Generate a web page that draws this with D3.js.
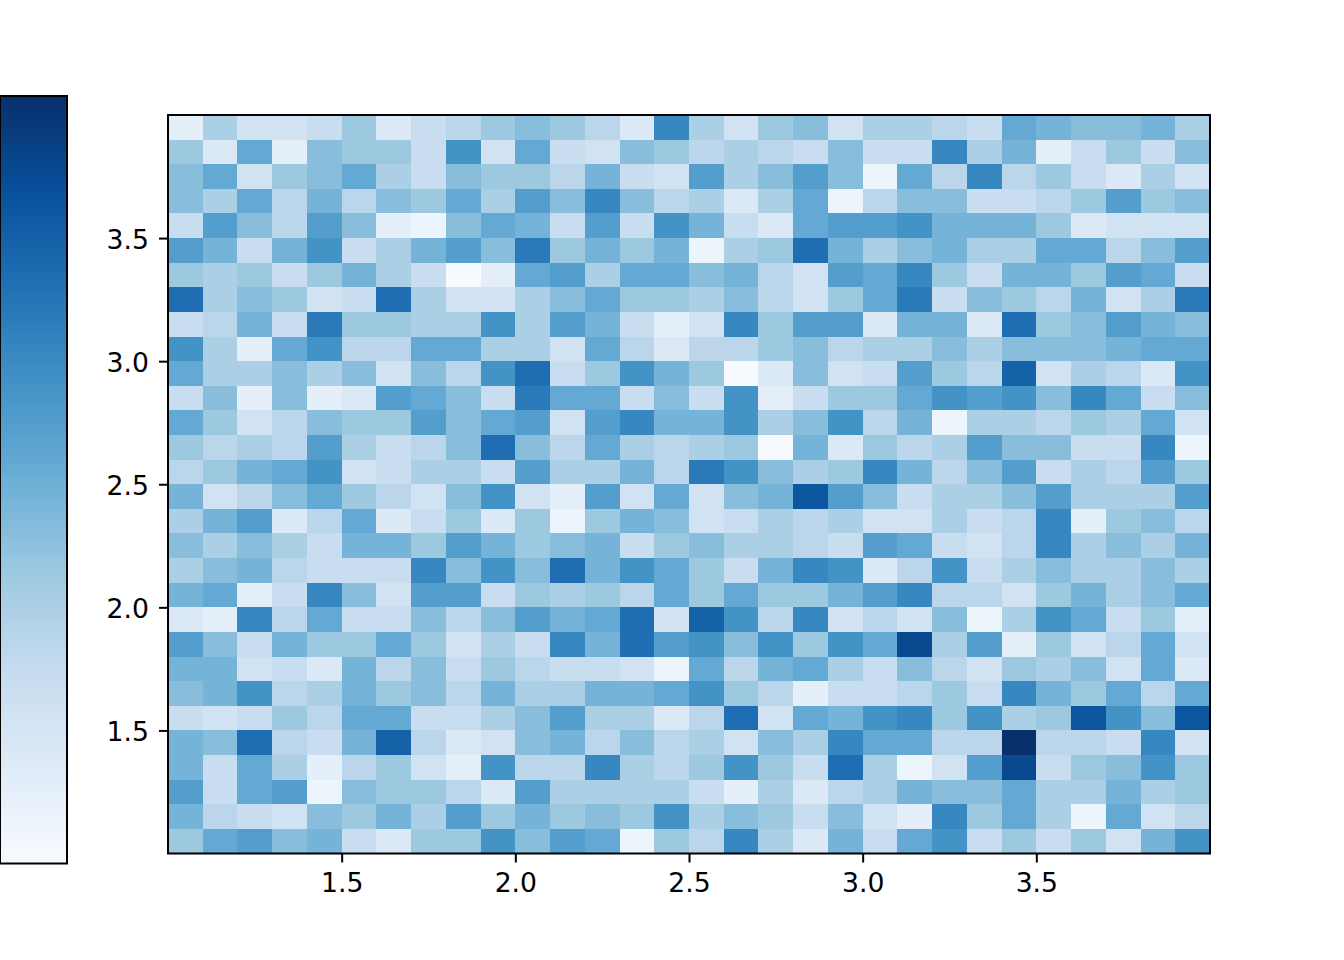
<!DOCTYPE html>
<html>
<head>
<meta charset="utf-8">
<script src="https://cdn.jsdelivr.net/npm/d3@7"></script>
<style>
	html, body { margin: 0; padding: 0; background: #fff; }
	svg { display: block; }
	text { font-family: "DejaVu Sans", sans-serif; font-size: 26.67px; fill: #000; }
</style>
</head>
<body>
<div id="vis"></div>
<script>
// bin counts, top row of the picture first
var counts = [
	[2,7,4,4,5,8,3,5,6,8,9,8,6,3,14,7,4,8,9,4,7,7,6,5,11,10,9,9,10,7],
	[8,3,11,2,9,8,8,5,13,4,11,5,4,9,8,6,7,6,5,9,5,5,14,7,10,2,5,8,5,9],
	[9,11,4,8,9,11,7,5,9,8,8,6,10,5,4,12,7,9,12,9,1,11,6,14,6,8,5,3,7,4],
	[9,7,11,6,10,6,9,8,11,7,12,9,14,9,6,7,3,7,11,1,6,9,9,5,5,6,8,12,8,9],
	[5,12,9,6,12,9,2,1,9,11,10,5,12,5,13,10,5,3,11,12,12,13,10,10,10,8,3,4,4,4],
	[12,10,5,10,13,5,7,10,12,9,15,8,10,8,10,1,7,8,16,10,7,9,10,7,7,11,11,6,9,12],
	[8,7,8,5,8,10,7,5,0,2,11,12,7,11,11,9,10,6,4,12,11,14,8,5,10,10,8,12,11,5],
	[16,7,9,8,4,5,16,7,4,4,7,9,11,8,8,7,9,6,4,8,11,15,5,9,8,6,10,4,7,15],
	[5,6,10,5,15,8,8,7,7,13,7,12,10,5,2,4,14,8,12,12,3,10,10,3,16,8,9,12,10,9],
	[13,7,2,11,13,6,6,11,11,7,7,4,11,6,3,6,6,8,9,6,7,7,9,7,9,9,9,10,11,11],
	[11,7,7,9,7,9,4,9,6,13,16,5,8,13,10,8,0,3,9,4,5,12,8,6,17,4,7,6,3,13],
	[5,9,2,9,2,3,12,11,9,5,15,11,11,5,9,5,13,2,5,8,8,11,13,12,13,9,14,11,5,9],
	[11,8,4,6,9,8,8,12,9,11,12,4,12,14,10,10,13,7,9,13,6,10,1,7,7,6,8,7,11,4],
	[8,6,7,6,12,7,5,6,9,16,9,6,11,7,6,7,8,0,10,3,8,6,7,12,9,9,5,5,14,1],
	[6,8,10,11,13,4,5,7,7,5,12,7,7,10,6,15,13,9,7,8,14,10,6,9,12,5,7,6,12,8],
	[10,4,6,9,11,8,6,4,9,13,4,2,12,4,11,4,9,10,18,12,9,5,7,7,9,12,7,7,7,12],
	[7,10,12,3,6,11,3,5,8,3,8,1,8,10,9,4,5,7,6,7,4,4,7,5,6,14,2,8,9,6],
	[9,7,9,7,5,10,10,8,12,10,8,9,10,5,8,9,7,7,6,5,12,11,5,4,6,14,7,9,7,10],
	[7,9,10,6,5,5,5,14,9,13,9,16,10,13,11,8,5,10,14,13,3,6,13,5,7,9,7,7,9,7],
	[10,11,2,5,14,9,4,12,12,5,8,7,8,6,11,8,11,8,8,10,12,14,6,6,4,8,10,7,9,11],
	[3,2,14,6,11,5,5,9,6,9,12,10,11,16,4,17,13,6,14,4,6,4,9,1,7,13,11,5,8,2],
	[12,9,5,10,8,8,11,8,4,7,5,14,10,16,12,13,9,13,8,13,11,19,7,12,2,8,4,6,11,4],
	[10,10,4,5,3,10,6,9,5,8,6,5,5,4,1,11,6,10,11,7,5,9,6,4,8,7,9,4,11,3],
	[9,10,13,6,7,10,8,9,6,10,7,7,10,10,11,13,8,6,2,5,5,6,8,5,14,10,8,11,6,11],
	[5,4,5,8,6,11,11,5,5,7,9,12,7,7,3,6,16,4,11,10,13,14,8,13,7,8,18,13,9,18],
	[10,9,16,6,5,10,17,6,3,4,9,10,6,9,6,7,4,9,7,14,11,11,6,6,21,6,6,5,14,4],
	[10,5,11,7,2,6,8,4,2,13,6,6,14,7,6,8,13,8,5,16,7,1,4,12,19,5,8,9,13,8],
	[12,5,11,12,1,9,8,8,6,3,12,7,7,7,7,5,2,7,3,6,7,10,9,9,11,7,7,10,7,8],
	[10,6,5,4,9,8,10,7,12,8,10,8,9,8,13,7,9,8,5,9,4,2,14,8,11,7,1,11,4,6],
	[8,11,12,9,10,5,3,8,8,13,9,12,11,1,8,6,14,7,3,10,5,11,13,5,8,5,8,4,10,13]
];
var xTicks = [1.5, 2.0, 2.5, 3.0, 3.5];
var yTicks = [1.5, 2.0, 2.5, 3.0, 3.5];
var xRange = [1, 4];
var yRange = [1, 4];
var binSize = 0.1;
var blues = ['#f7fbff', '#deebf7', '#c6dbef', '#9ecae1', '#6baed6', '#4292c6', '#2171b5', '#08519c', '#08306b'];

var dim = { w: 1344, h: 960 };
var plot = { left: 168, right: 1210, top: 115, bottom: 853.5 };
var bar = { left: 0, right: 67, top: 96, bottom: 863.5 };

var x = d3.scaleLinear().domain(xRange).range([plot.left, plot.right]);
var y = d3.scaleLinear().domain(yRange).range([plot.bottom, plot.top]);

var maxCount = d3.max(counts, function (row) { return d3.max(row); });
var color = d3.scaleLinear()
	.domain(blues.map(function (c, i) { return i / (blues.length - 1) * maxCount; }))
	.range(blues);

var svg = d3.select('#vis').append('svg')
	.attr('width', dim.w)
	.attr('height', dim.h);

// colorbar, ticks fall off the left edge of the page
var grad = svg.append('defs').append('linearGradient')
	.attr('id', 'bar-grad')
	.attr('x1', 0).attr('x2', 0).attr('y1', 1).attr('y2', 0);
blues.forEach(function (c, i) {
	grad.append('stop')
		.attr('offset', i / (blues.length - 1))
		.attr('stop-color', c);
});
svg.append('rect')
	.attr('x', bar.left)
	.attr('y', bar.top)
	.attr('width', bar.right - bar.left)
	.attr('height', bar.bottom - bar.top)
	.attr('fill', 'url(#bar-grad)')
	.attr('stroke', '#000')
	.attr('stroke-width', 2);

// cells
counts.forEach(function (row, r) {
	var yStart = yRange[1] - r * binSize;
	svg.append('g').selectAll('rect')
		.data(row)
		.enter().append('rect')
		.attr('x', function (d, c) { return x(xRange[0] + c * binSize); })
		.attr('y', y(yStart))
		.attr('width', function (d, c) { return x(xRange[0] + (c + 1) * binSize) - x(xRange[0] + c * binSize); })
		.attr('height', y(yStart - binSize) - y(yStart))
		.attr('fill', function (d) { return color(d); })
		.attr('shape-rendering', 'crispEdges');
});

// frame
svg.append('rect')
	.attr('x', plot.left)
	.attr('y', plot.top)
	.attr('width', plot.right - plot.left)
	.attr('height', plot.bottom - plot.top)
	.attr('fill', 'none')
	.attr('stroke', '#000')
	.attr('stroke-width', 2);

//axes
var xAxis = svg.append('g')
	.attr('transform', 'translate(0,' + plot.bottom + ')')
	.call(d3.axisBottom(x).tickValues(xTicks).tickFormat(d3.format('.1f')).tickSize(9).tickPadding(11));
var yAxis = svg.append('g')
	.attr('transform', 'translate(' + plot.left + ',0)')
	.call(d3.axisLeft(y).tickValues(yTicks).tickFormat(d3.format('.1f')).tickSize(9).tickPadding(10));
yAxis.selectAll('text').attr('dy', '0.38em');

[xAxis, yAxis].forEach(function (a) {
	a.attr('font-size', null).attr('font-family', null);
	a.select('.domain').remove();
	a.selectAll('.tick line').attr('stroke', '#000').attr('stroke-width', 2);
});
</script>
</body>
</html>
